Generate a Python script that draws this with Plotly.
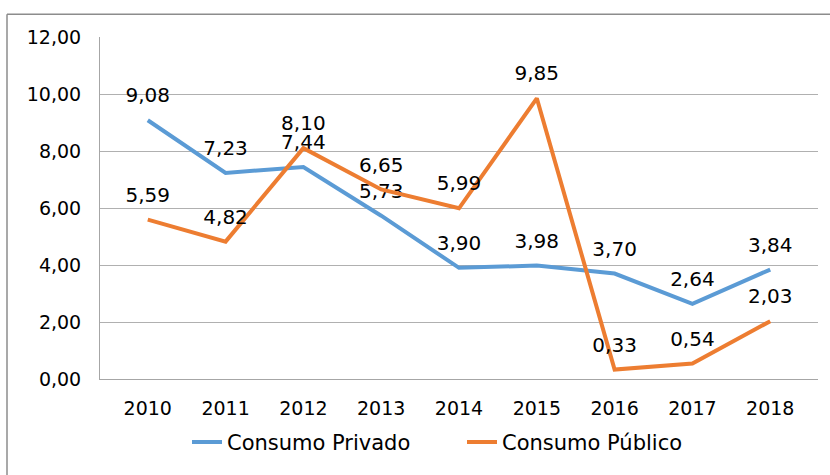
import plotly.graph_objects as go

years = ["2010", "2011", "2012", "2013", "2014", "2015", "2016", "2017", "2018"]
privado = [9.08, 7.23, 7.44, 5.73, 3.90, 3.98, 3.70, 2.64, 3.84]
publico = [5.59, 4.82, 8.10, 6.65, 5.99, 9.85, 0.33, 0.54, 2.03]
series_names = ["Consumo Privado", "Consumo Público"]
colors = ["#5B9BD5", "#ED7D31"]
y_ticks = [0, 2, 4, 6, 8, 10, 12]

FONT = "DejaVu Sans"

fig = go.Figure()
for name, vals, col in zip(series_names, [privado, publico], colors):
    fig.add_trace(go.Scatter(
        x=years, y=vals, name=name,
        mode="lines+markers+text",
        line=dict(color=col, width=4),
        marker=dict(size=19, color="rgba(0,0,0,0)"),
        texttemplate="%{y:.2f}",
        textposition="top center",
        textfont=dict(family=FONT, size=20, color="#000000"),
        hoverinfo="skip",
    ))

W, H = 830, 475
L, R, T, B = 100, 12, 37, 92
pw, ph = W - L - R, H - T - B

def px_x(p):
    return (p - L) / pw

def px_y(p):
    return (H - B - p) / ph

fig.update_layout(
    width=W, height=H,
    margin=dict(l=L, r=R, t=T, b=B, pad=0),
    paper_bgcolor="white", plot_bgcolor="white",
    separators=",.",
    font=dict(family=FONT, size=19, color="#000000"),
    showlegend=True,
    legend=dict(
        orientation="h", x=px_x(187), xanchor="left",
        y=px_y(447), yanchor="middle",
        font=dict(family=FONT, size=21, color="#000000"),
        traceorder="normal", entrywidth=230,
    ),
    xaxis=dict(
        type="category", showgrid=False, showline=True,
        linecolor="#a6a6a6", linewidth=1, ticks="",
        ticklabelstandoff=12,
        tickfont=dict(family=FONT, size=19, color="#000000"),
        fixedrange=True,
    ),
    yaxis=dict(
        range=[0, 12], tickvals=y_ticks, tickformat=".2f",
        showgrid=True, gridcolor="#b0b0b0", gridwidth=1,
        showline=True, linecolor="#a6a6a6", linewidth=1,
        ticks="", ticklabelstandoff=14, zeroline=False,
        tickfont=dict(family=FONT, size=19, color="#000000"),
        fixedrange=True,
    ),
    shapes=[
        dict(type="line", xref="paper", yref="paper",
             x0=px_x(7), x1=px_x(840), y0=px_y(14), y1=px_y(14),
             line=dict(color="#8c8c8c", width=1.5)),
        dict(type="line", xref="paper", yref="paper",
             x0=px_x(7), x1=px_x(7), y0=px_y(14), y1=px_y(490),
             line=dict(color="#8c8c8c", width=1.5)),
    ],
)

fig.write_html(
    "out.html",
    config={"displayModeBar": False},
    post_script="document.body.style.margin='0';document.body.style.overflow='hidden';",
)
